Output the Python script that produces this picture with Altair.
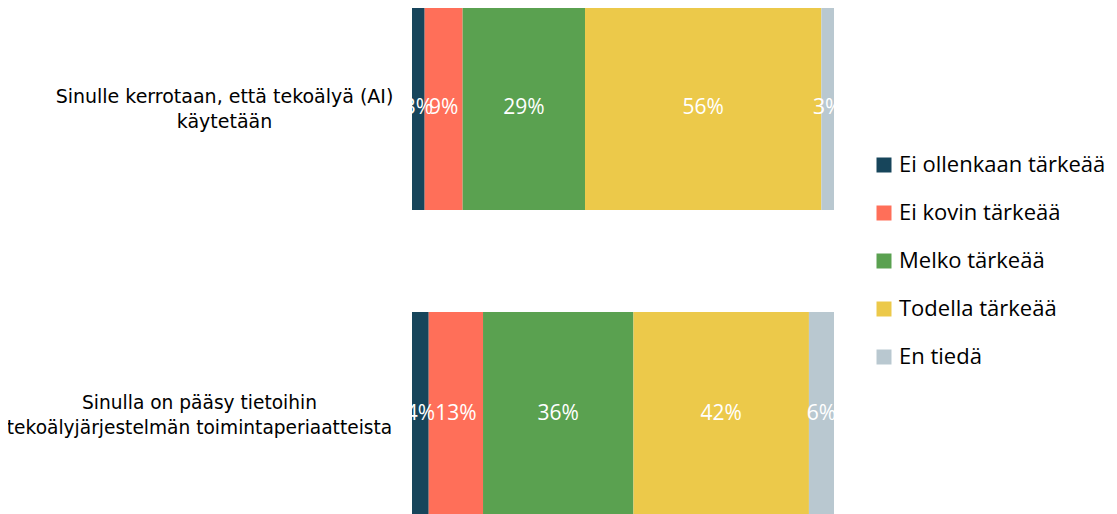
import altair as alt
import pandas as pd

questions = [
    "Sinulle kerrotaan, että tekoälyä (AI)|käytetään",
    "Sinulla on pääsy tietoihin|tekoälyjärjestelmän toimintaperiaatteista",
]
categories = ["Ei ollenkaan tärkeää", "Ei kovin tärkeää", "Melko tärkeää", "Todella tärkeää", "En tiedä"]
colors = ["#17455B", "#FF6F59", "#5AA150", "#ECC94A", "#B9C8D0"]
values_q1 = [3, 9, 29, 56, 3]
values_q2 = [4, 13, 36, 42, 6]

rows = []
for q, vals in zip(questions, [values_q1, values_q2]):
    for i, (c, v) in enumerate(zip(categories, vals)):
        rows.append({"question": q, "category": c, "value": v, "order": i, "label": f"{v}%"})
df = pd.DataFrame(rows)

base = alt.Chart(df).transform_stack(
    stack="value",
    groupby=["question"],
    sort=[alt.SortField("order", order="ascending")],
    as_=["x0", "x1"],
    offset="normalize",
).transform_calculate(mid="(datum.x0 + datum.x1) / 2")

y_enc = alt.Y(
    "question:N",
    sort=questions,
    title=None,
    scale=alt.Scale(range=[-3, 509], paddingInner=0.332, paddingOuter=0),
    axis=alt.Axis(
        domain=False,
        ticks=False,
        labelExpr="split(datum.label, '|')",
        labelAlign="center",
        labelBaseline="middle",
        labelLineHeight=25,
        labelOffset=-11,
        labelFont="DejaVu Sans",
        labelFontSize={"condition": {"test": "indexof(datum.value, 'Sinulla') == 0", "value": 18.6}, "value": 19},
        labelColor="#000000",
        labelLimit=800,
        labelPadding={"condition": {"test": "indexof(datum.value, 'Sinulla') == 0", "value": 213}, "value": 188},
    ),
)

bars = base.mark_bar().encode(
    x=alt.X("x0:Q", axis=None, scale=alt.Scale(domain=[0, 1], nice=False, zero=False)),
    x2="x1:Q",
    y=y_enc,
    color=alt.Color(
        "category:N",
        sort=categories,
        scale=alt.Scale(domain=categories, range=colors),
        legend=alt.Legend(
            title=None,
            orient="none",
            legendX=461,
            legendY=146,
            padding=0,
            symbolType="square",
            symbolSize=225,
            symbolStrokeWidth=0,
            symbolOpacity=1,
            labelFont="Open Sans",
            labelFontSize=22,
            labelColor="#000000",
            labelOffset=4,
            rowPadding=26,
            labelLimit=400,
        ),
    ),
)

texts = base.mark_text(color="white", font="Open Sans", fontSize=21, baseline="middle", align="center").encode(
    x=alt.X("mid:Q"),
    y=alt.Y("question:N", sort=questions),
    text="label:N",
)

chart = (
    alt.layer(bars, texts)
    .properties(
        width=422,
        height=506,
        autosize=alt.AutoSizeParams(type="none"),
        padding={"left": 404, "top": 0, "right": 275, "bottom": 0},
    )
    .configure_view(stroke=None)
)

chart.save("out.html", embed_options={"renderer": "svg", "actions": False})
